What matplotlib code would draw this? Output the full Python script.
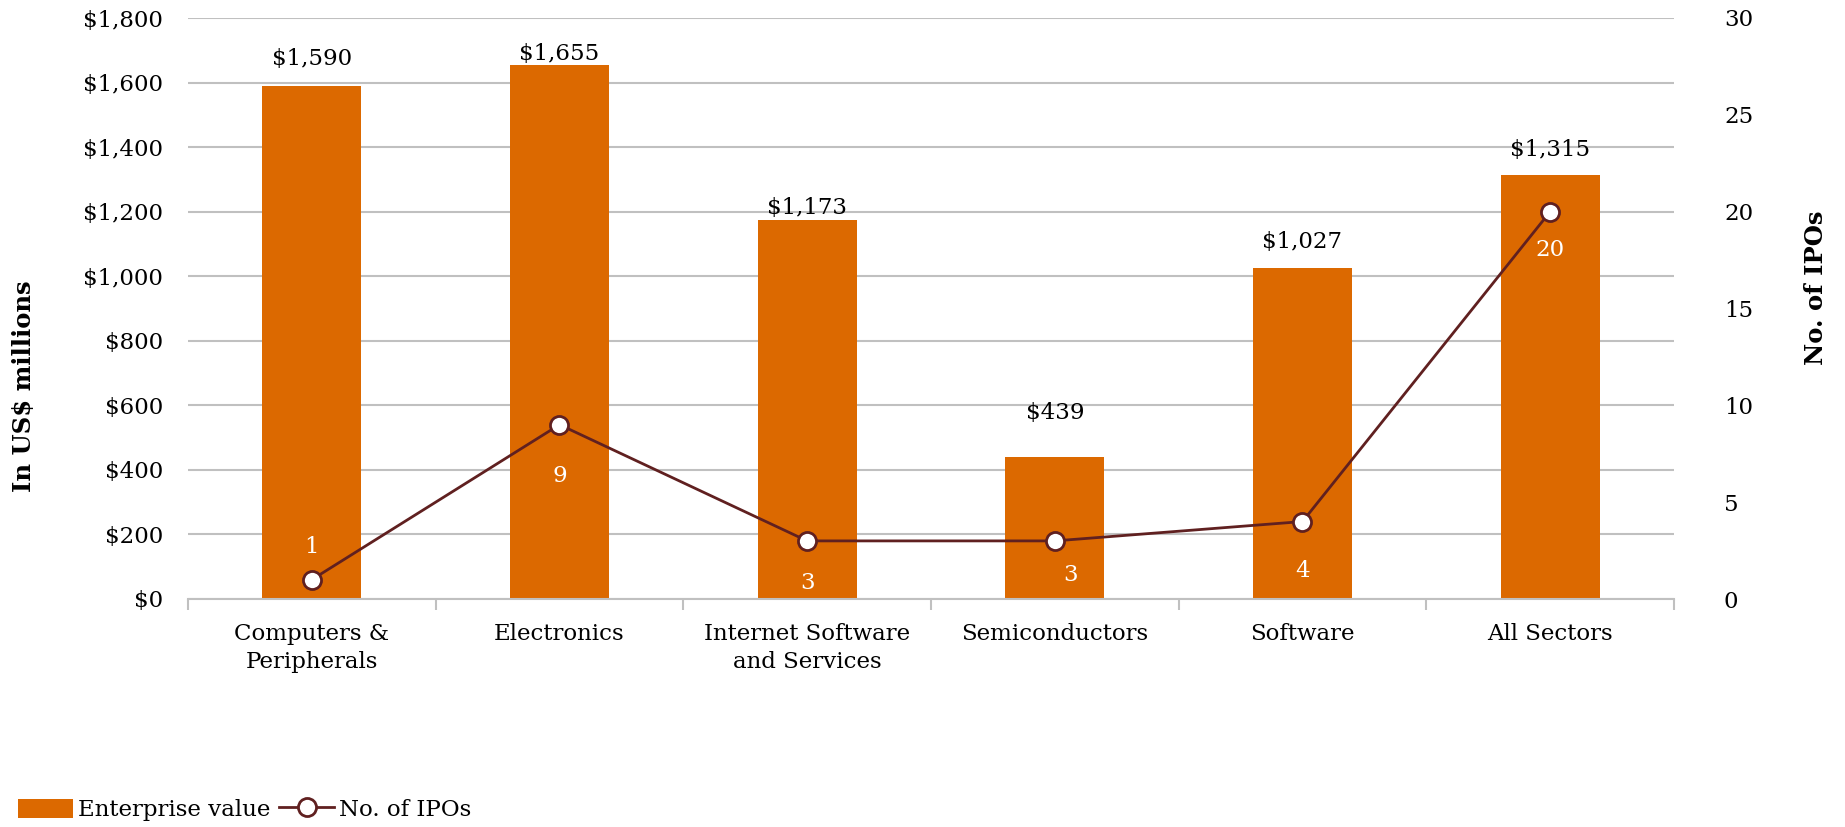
import matplotlib.pyplot as plt
from matplotlib.lines import Line2D
from matplotlib.patches import Patch

sectors = ['Computers &\nPeripherals', 'Electronics', 'Internet Software\nand Services',
           'Semiconductors', 'Software', 'All Sectors']
enterprise_value = [1590, 1655, 1173, 439, 1027, 1315]
num_ipos = [1, 9, 3, 3, 4, 20]

# label offsets (pixels) copied from the reference layout
ev_offsets = [27, 11, 12, 44, 26, 25]
ipo_offsets = [(0, 33), (0, -51), (0, -42), (16, -34), (0, -49), (0, -38)]

orange = '#DC6900'
line_col = '#602020'
grid_col = '#C0C0C0'

plt.rcParams['font.family'] = ['DejaVu Serif']
fs = 16.5

fig = plt.figure(figsize=(18.45, 8.27), dpi=100)
ax = fig.add_axes([188/1845, 1 - 599/827, (1674 - 188)/1845, (599 - 18)/827])
ax2 = ax.twinx()

x = list(range(len(sectors)))
ax.bar(x, enterprise_value, width=0.4, color=orange, zorder=2)
ax.set_xlim(-0.5, len(sectors) - 0.5)
ax.set_ylim(0, 1800)
ax.set_yticks(range(0, 1801, 200))
ax.set_yticklabels(['${:,}'.format(v) for v in range(0, 1801, 200)], fontsize=fs)
ax.yaxis.grid(True, color=grid_col, linewidth=1.5, zorder=0)
ax.set_axisbelow(True)
ax.tick_params(axis='y', length=0, pad=18)
ax.set_xticks(x)
ax.set_xticklabels(sectors, fontsize=fs, linespacing=1.35)
ax.set_xticks([i + 0.5 for i in range(-1, len(sectors))], minor=True)
ax.tick_params(axis='x', which='major', length=0, pad=17)
ax.tick_params(axis='x', which='minor', length=8, color=grid_col, width=1.5)
for s in ['top', 'left', 'right']:
    ax.spines[s].set_visible(False)
    ax2.spines[s].set_visible(False)
ax.spines['bottom'].set_color(grid_col)
ax.spines['bottom'].set_linewidth(1.5)
ax2.spines['bottom'].set_visible(False)

for xi, v, off in zip(x, enterprise_value, ev_offsets):
    ax.annotate('${:,}'.format(v), (xi, v), xytext=(0, off), textcoords='offset pixels',
                ha='center', va='center', fontsize=fs)

ax2.plot(x, num_ipos, color=line_col, linewidth=2, marker='o', markersize=13,
         markerfacecolor='white', markeredgecolor=line_col, markeredgewidth=2, zorder=3)
ax2.set_ylim(0, 30)
ax2.set_yticks(range(0, 31, 5))
ax2.set_yticklabels([str(v) for v in range(0, 31, 5)], fontsize=fs)
ax2.tick_params(axis='y', length=0, pad=36)
for xi, v, off in zip(x, num_ipos, ipo_offsets):
    ax2.annotate(str(v), (xi, v), xytext=off, textcoords='offset pixels',
                 ha='center', va='center', fontsize=fs, color='white')

fig.text(24/1845, 1 - 386/827, 'In US$ millions', rotation=90, fontsize=fs + 1,
         fontweight='bold', ha='center', va='center')
fig.text(1816/1845, 1 - 288/827, 'No. of IPOs', rotation=90, fontsize=fs + 1,
         fontweight='bold', ha='center', va='center')

handles = [Patch(facecolor=orange),
           Line2D([0], [0], color=line_col, linewidth=2, marker='o', markersize=13,
                  markerfacecolor='white', markeredgecolor=line_col, markeredgewidth=2)]
fig.legend(handles, ['Enterprise value', 'No. of IPOs'], loc='center left',
           bbox_to_anchor=(0.0, 1 - 810/827), ncol=2, frameon=False, fontsize=fs,
           handlelength=2.4, handleheight=0.9, handletextpad=0.2, columnspacing=0.4,
           borderaxespad=0.4)

fig.savefig('out.png', dpi=100)
